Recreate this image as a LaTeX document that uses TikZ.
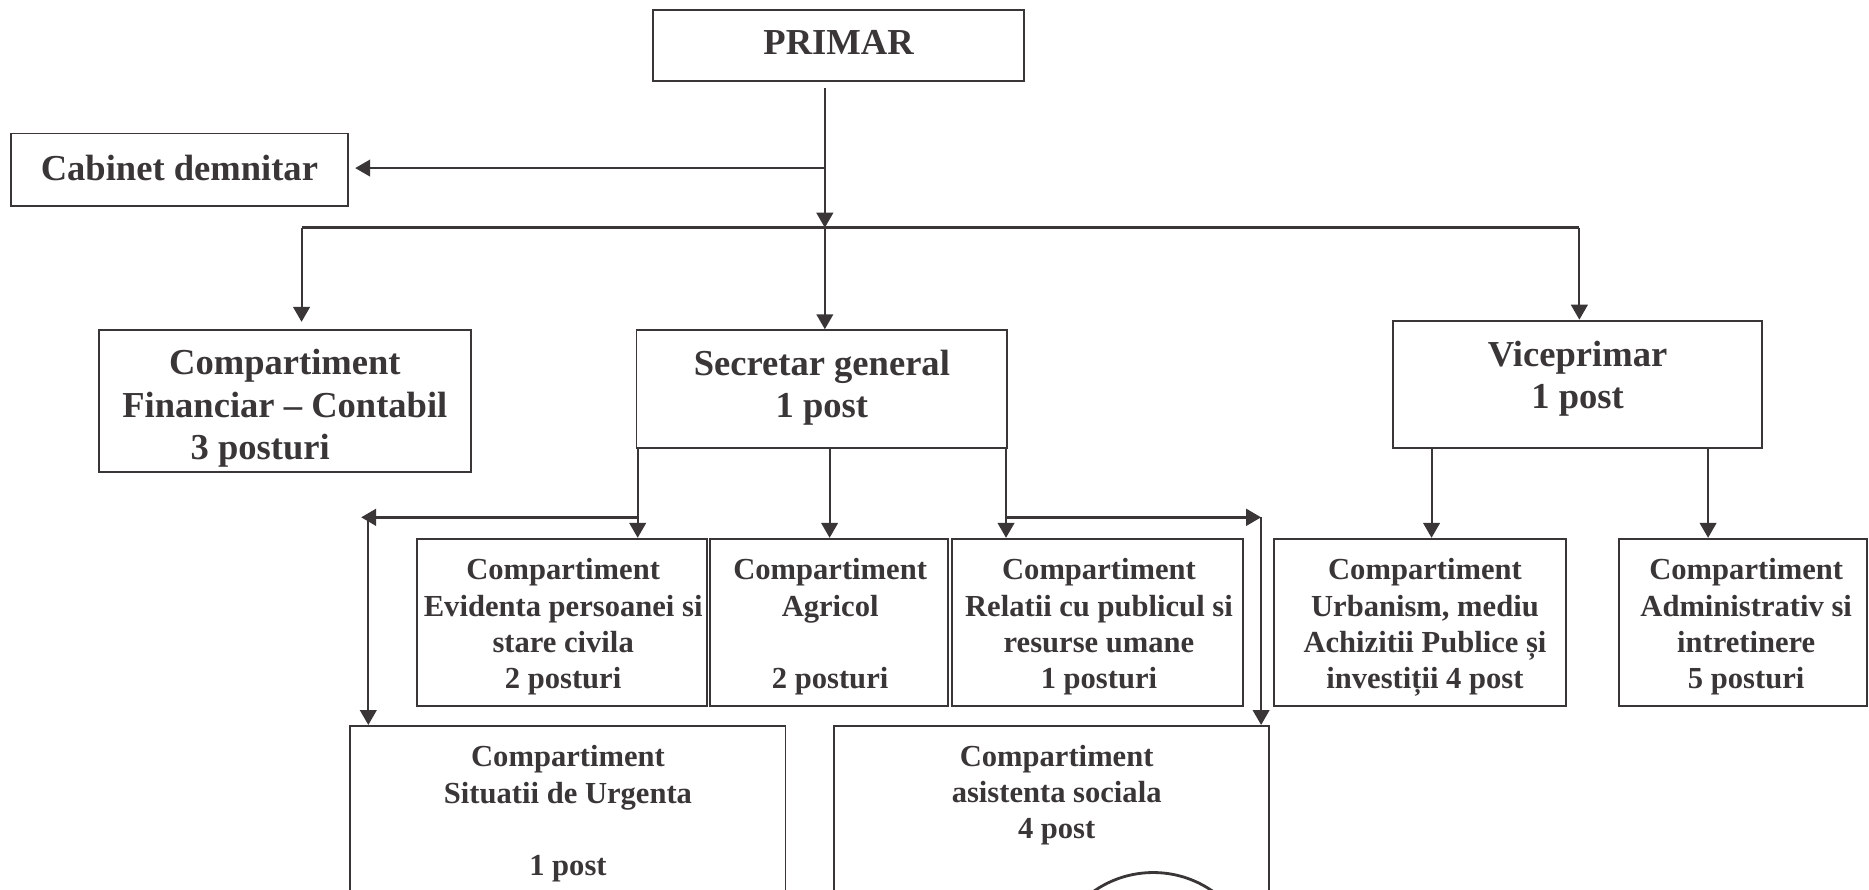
\documentclass[tikz,border=0pt]{standalone}
\usepackage{fontspec}
\setmainfont{Liberation Serif}
\usetikzlibrary{arrows.meta}
\definecolor{ink}{HTML}{3A3638}
\tikzset{
  x=0.02384cm, y=-0.02384cm,
  boxbase/.style={draw=ink, line width=1.1pt, inner sep=0pt, text=ink},
  big/.style={boxbase, font=\fontsize{20.8}{24.2}\selectfont\bfseries},
  small/.style={boxbase, font=\fontsize{17.4}{20.7}\selectfont\bfseries},
  conn/.style={draw=ink, line width=1.1pt},
  busline/.style={draw=ink, line width=1.4pt},
  arr/.style={conn, -{Triangle[length=8.5pt,width=9.5pt]}},
  arrb/.style={busline, -{Triangle[length=8.5pt,width=9.5pt]}},
}
% style,name,x1,y1,x2,y2,dx(twice the shift, pt),dy(pt, upward),lines
\newcommand{\boxnode}[9]{%
  \node[#1, minimum width={(#5-#3)*0.02384cm}, minimum height={(#6-#4)*0.02384cm}] (#2) at ({(#3+#5)/2},{(#4+#6)/2})
  {\makebox[0pt]{\kern#7pt\raisebox{\dimexpr#8pt-0.25em\relax}[0pt][0pt]{\begin{tabular}{@{}c@{}}#9\end{tabular}}}};}
\begin{document}
\begin{tikzpicture}
\useasboundingbox (0,0) rectangle (1568,746);
\clip (0,0) rectangle (1568,746);
\boxnode{big}{primar}{548}{8}{859}{68}{0}{-0.6}{PRIMAR}
\boxnode{big}{cab}{9}{112}{292}{173}{0}{-1.3}{Cabinet demnitar}
\boxnode{big}{fin}{83}{277}{395}{396}{0}{-4.4}{Compartiment\\Financiar – Contabil\\\hspace*{-28pt}3 posturi}
\boxnode{big}{sec}{534}{277}{845}{376}{0}{0.7}{Secretar general\\1 post}
\boxnode{big}{vice}{1169}{269}{1478}{376}{0}{3}{Viceprimar\\1 post}
\boxnode{small}{evid}{350}{452}{593}{592}{1.3}{-2.7}{Compartiment\\Evidenta persoanei si\\stare civila\\2 posturi}
\boxnode{small}{agr}{596}{452}{795}{592}{1.3}{-2.7}{Compartiment\\Agricol\\~\\2 posturi}
\boxnode{small}{rel}{799}{452}{1043}{592}{1.3}{-2.7}{Compartiment\\Relatii cu publicul si\\resurse umane\\1 posturi}
\boxnode{small}{urb}{1069}{452}{1314}{592}{5.4}{-2.7}{Compartiment\\Urbanism, mediu\\Achizitii Publice și\\investiții 4 post}
\boxnode{small}{adm}{1358}{452}{1566}{592}{4}{-2.7}{Compartiment\\Administrativ si\\intretinere\\5 posturi}
\boxnode{small}{sit}{294}{609}{659}{751}{0}{-2}{Compartiment\\Situatii de Urgenta\\~\\1 post}
\boxnode{small}{asis}{700}{609}{1065}{751}{5.4}{8.8}{Compartiment\\asistenta sociala\\4 post}
% junctions
\coordinate (pstart) at (692,74);
\coordinate (jcab) at (692,141);
\coordinate (jbus) at (692,191);
\coordinate (busl) at (253,191);
\coordinate (busr) at (1325,191);
\coordinate (finin) at (253,270);
\coordinate (cabin) at (298,141);
\coordinate (leftx) at (303,434);
\coordinate (rightx) at (1058,434);
\coordinate (leftv) at (309,434);
\coordinate (rightv) at (1058,434);
% connectors
\draw[arr] (pstart) -- (jbus);
\draw[arr] (jcab) -- (cabin);
\draw[busline] (busl) -- (busr);
\draw[arr] (busl) -- (finin);
\draw[arr] (jbus) -- (jbus |- sec.north);
\draw[arr] (busr) -- (busr |- vice.north);
\coordinate (s1) at (535,376);
\coordinate (s2) at (696,376);
\coordinate (s3) at (844,376);
\coordinate (v1) at (1201,376);
\coordinate (v2) at (1433,376);
\draw[arr] (s1) -- (s1 |- evid.north);
\draw[arr] (s2) -- (s2 |- agr.north);
\draw[arr] (s3) -- (s3 |- rel.north);
\draw[arr] (v1) -- (v1 |- urb.north);
\draw[arr] (v2) -- (v2 |- adm.north);
\coordinate (jl) at (535,434);
\coordinate (jr) at (844,434);
\draw[arrb] (jl) -- (leftx);
\draw[arrb] (jr) -- (rightx);
\draw[arr] (leftv) -- (leftv |- sit.north);
\draw[arr] (rightv) -- (rightv |- asis.north);
% stamp fragment
\node[circle, draw=ink, line width=1.6pt, minimum size=118pt, inner sep=0pt] (stamp) at (967.5,819) {};
\end{tikzpicture}
\end{document}
